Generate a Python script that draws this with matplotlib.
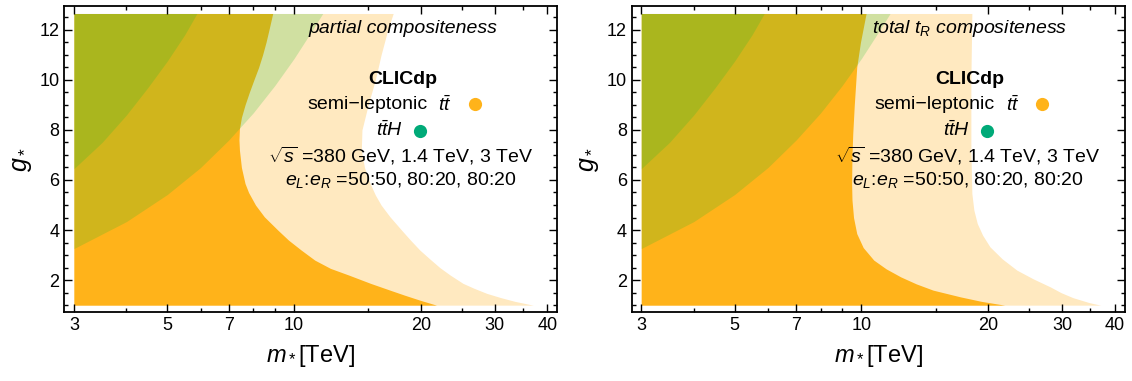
import numpy as np
import matplotlib
matplotlib.use("Agg")
import matplotlib.pyplot as plt
from matplotlib.ticker import FixedLocator, FixedFormatter, NullFormatter

plt.rcParams['font.family'] = ['Liberation Sans', 'DejaVu Sans']
plt.rcParams['mathtext.fontset'] = 'custom'
plt.rcParams['mathtext.rm'] = 'Liberation Sans'
plt.rcParams['mathtext.it'] = 'Liberation Sans:italic'
plt.rcParams['mathtext.bf'] = 'Liberation Sans:bold'

# plot range of the scan
g_top = 12.65
m_min = 3.0

# ttbar reach, partial compositeness (strong = combined, light = weaker stage)
pc_strong_g = [1.0, 1.2, 1.4, 1.6, 1.87, 2.2, 2.47, 2.8, 3.2, 3.6, 4.0, 4.53, 5.0, 5.5, 5.86,
               6.5, 7.19, 7.6, 8.05, 8.5, 9.0, 9.5, 10.0, 10.5, 11.0, 11.5, 12.0, 12.65]
pc_strong_m = [21.8, 19.9, 18.3, 16.9, 15.2, 13.5, 12.2, 11.2, 10.4, 9.7, 9.15, 8.5, 8.1, 7.8, 7.65,
               7.5, 7.42, 7.40, 7.42, 7.5, 7.65, 7.83, 8.03, 8.24, 8.42, 8.58, 8.72, 8.9]
pc_light_g = [1.0, 1.15, 1.3, 1.47, 1.67, 1.87, 2.2, 2.5, 2.85, 3.2, 3.6, 4.0, 4.53, 5.0, 5.4,
              5.86, 6.5, 7.19, 8.0, 9.0, 10.0, 11.0, 12.0, 12.65]
pc_light_m = [37.0, 33.5, 31.0, 28.7, 26.8, 25.2, 23.5, 22.2, 21.0, 19.9, 18.9, 18.0, 16.9, 16.1, 15.6,
              15.16, 14.7, 14.45, 14.5, 15.0, 15.6, 16.1, 16.7, 17.2]

# ttbar reach, total t_R compositeness
tr_strong_g = [1.0, 1.15, 1.33, 1.6, 1.85, 2.13, 2.45, 2.8, 3.3, 3.86, 4.5, 5.2, 5.86, 7.0,
               7.85, 9.0, 10.51, 11.5, 12.65]
tr_strong_m = [21.9, 19.3, 17.2, 14.8, 13.5, 12.4, 11.45, 10.7, 10.1, 9.75, 9.58, 9.5, 9.48, 9.5,
               9.54, 9.62, 9.75, 9.95, 10.26]
tr_light_g = [1.0, 1.1, 1.3, 1.5, 1.73, 2.05, 2.4, 2.85, 3.33, 3.8, 4.26, 4.8, 5.46, 7.19, 10.0, 12.65]
tr_light_m = [37.0, 34.8, 31.8, 29.8, 28.1, 25.6, 23.4, 21.6, 20.2, 19.4, 18.85, 18.5, 18.3, 18.2, 18.2, 18.3]

# ttH reach (same in both panels)
tth_m = [3.0, 4.0, 5.0, 6.0, 7.0, 8.0, 9.0, 10.0, 11.0, 11.7]
tth_g = [3.26, 4.34, 5.42, 6.5, 7.6, 8.68, 9.77, 10.85, 11.93, 12.65]
tth2_m = [3.0, 3.5, 4.0, 4.5, 5.0, 5.5, 5.88]
tth2_g = [6.45, 7.5, 8.6, 9.7, 10.75, 11.8, 12.65]

orange = "#FFB31A"
light_orange = "#FFE9C0"
green = "#14BE28"
dot_green = "#00AA78"

fig = plt.figure(figsize=(11.32, 3.81), dpi=100)
ax1 = fig.add_axes([0.0568, 0.180, 0.4355, 0.803])
ax2 = fig.add_axes([0.5580, 0.180, 0.4355, 0.803])


def draw_panel(ax, s_g, s_m, l_g, l_m, title):
    ax.fill_betweenx(l_g, m_min, l_m, color=light_orange, lw=0)
    ax.fill_betweenx(s_g, m_min, s_m, color=orange, lw=0)
    ax.fill_between(tth_m, tth_g, g_top, color=green, alpha=0.2, lw=0)
    ax.fill_between(tth2_m, tth2_g, g_top, color=green, alpha=0.2, lw=0)

    ax.set_xscale('log')
    ax.set_xlim(2.847, 42.2)
    ax.set_ylim(0.71, 12.93)
    ax.xaxis.set_major_locator(FixedLocator([3, 5, 7, 10, 20, 30, 40]))
    ax.xaxis.set_major_formatter(FixedFormatter(['3', '5', '7', '10', '20', '30', '40']))
    ax.xaxis.set_minor_locator(FixedLocator([4, 6, 8, 9, 15, 25, 35]))
    ax.xaxis.set_minor_formatter(NullFormatter())
    ax.yaxis.set_major_locator(FixedLocator([2, 4, 6, 8, 10, 12]))
    ax.yaxis.set_minor_locator(FixedLocator(np.arange(1, 12.6, 0.5)))
    ax.tick_params(which='both', direction='in', top=True, right=True, labelsize=13, width=1.0)
    ax.tick_params(which='major', length=6)
    ax.tick_params(which='minor', length=3)
    for sp in ax.spines.values():
        sp.set_linewidth(1.3)

    ax.set_xlabel(r'$m_*$[TeV]', fontsize=17, labelpad=6)
    ax.set_ylabel(r'$g_*$', fontsize=18, labelpad=4)

    ax.text(18.1, 12.05, title, fontsize=14, style='italic', ha='center', va='center')
    ax.text(18.1, 10.0, 'CLICdp', fontsize=14, fontweight='bold', ha='center', va='center')
    ax.text(20.7, 9.0, 'semi\u2212leptonic', fontsize=14, ha='right', va='center')
    ax.text(22.0, 9.0, r'$t\bar{t}$', fontsize=14, ha='left', va='center')
    ax.plot([26.9], [9.05], 'o', color=orange, ms=9.5, mec='none')
    ax.text(18.15, 7.98, r'$t\bar{t}H$', fontsize=14, ha='right', va='center')
    ax.plot([19.9], [7.97], 'o', color=dot_green, ms=9.5, mec='none')
    ax.text(17.9, 6.98, r'$\sqrt{s}$ =380 GeV, 1.4 TeV, 3 TeV', fontsize=14, ha='center', va='center')
    ax.text(17.9, 6.0, r'$e_L$:$e_R$ =50:50, 80:20, 80:20', fontsize=14, ha='center', va='center')


draw_panel(ax1, pc_strong_g, pc_strong_m, pc_light_g, pc_light_m, 'partial compositeness')
draw_panel(ax2, tr_strong_g, tr_strong_m, tr_light_g, tr_light_m, r'total $t_R$ compositeness')

fig.savefig('out.png', dpi=100)
